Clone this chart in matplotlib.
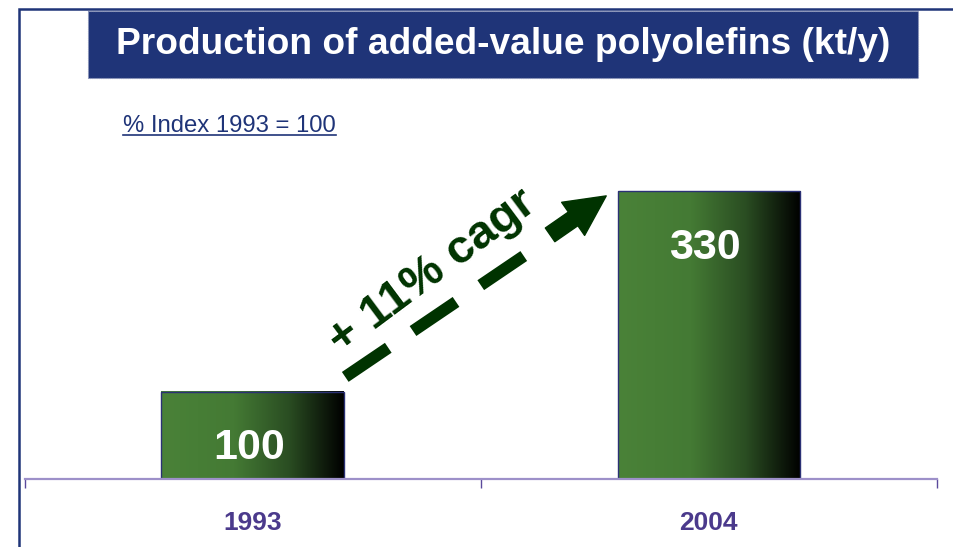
import numpy as np
import matplotlib
matplotlib.use('Agg')
import matplotlib.pyplot as plt
from matplotlib.colors import LinearSegmentedColormap
from matplotlib.patches import Rectangle
from matplotlib.lines import Line2D

# データ
years = ['1993', '2004']
values = [100, 330]
title = 'Production of added-value polyolefins (kt/y)'
subtitle = '% Index 1993 = 100'
cagr_text = '+ 11% cagr'

navy = '#1f3478'
dkgreen = '#003300'
plt.rcParams['font.family'] = ['Liberation Sans', 'DejaVu Sans']

fig = plt.figure(figsize=(9.54, 5.47), dpi=100)

# 背景（枠線・タイトル）用のピクセル座標の軸
bg = fig.add_axes([0, 0, 1, 1], zorder=0)
bg.set_xlim(0, 954)
bg.set_ylim(547, 0)
bg.axis('off')
bg.plot([19, 19, 954], [547, 8.5, 8.5], color=navy, lw=1.8, solid_joinstyle='miter')
bg.add_patch(Rectangle((88, 10.5), 830, 67.5, facecolor=navy,
                       edgecolor='#8a93b8', lw=0.8, ls=(0, (1, 1))))
bg.text(503, 45, title, color='white', fontsize=26.7, fontweight='bold',
        ha='center', va='center')
sub = bg.text(123, 132, subtitle, color=navy, fontsize=17.2, ha='left', va='baseline')

# メインの軸
ax = fig.add_axes([24.5 / 954, 68.3 / 547, 912.5 / 954, 388.7 / 547], zorder=1)
ax.patch.set_alpha(0)
ax.set_xlim(-0.5, 1.5)
ax.set_ylim(0, 446)

cmap = LinearSegmentedColormap.from_list('g', [(0, '#4a8238'), (0.4, '#447a34'),
                                              (0.7, '#2a4d22'), (1, '#000000')])
grad = np.linspace(0, 1, 256).reshape(1, -1)
w = 0.40
for i, v in enumerate(values):
    ax.imshow(grad, extent=[i - w / 2, i + w / 2, 0, v], cmap=cmap,
              aspect='auto', zorder=2, interpolation='bilinear')
    ax.add_patch(Rectangle((i - w / 2, 0), w, v, facecolor='none',
                           edgecolor='#2b3175', lw=1.0, zorder=3))
    ax.text(i - 0.008, v - 65, str(v), color='white', fontsize=31,
            fontweight='bold', ha='center', va='center', zorder=4)

for s in ['left', 'right', 'top']:
    ax.spines[s].set_visible(False)
ax.spines['bottom'].set_color('#9d90c9')
ax.spines['bottom'].set_linewidth(1.6)
ax.spines['bottom'].set_zorder(5)
ax.set_yticks([])
ax.set_xticks([0, 1])
ax.set_xticklabels(years, fontsize=19, fontweight='bold', color='#4b3a8c')
ax.tick_params(axis='x', which='major', length=0, pad=23)
ax.set_xticks([-0.5, 0.5, 1.5], minor=True)
ax.tick_params(axis='x', which='minor', length=6.5, width=1.0, color='#5b4a9c',
               direction='out')

# CAGR の矢印
ax.plot([0.203, 0.598], [116.8, 256.8], color=dkgreen, lw=8.6,
        ls=(0, (4.35, 2.5)), dash_capstyle='butt', zorder=4)
ax.annotate('', xy=(0.775, 324.5), xytext=(0.652, 279.8),
            arrowprops=dict(arrowstyle='simple,head_length=1.45,head_width=1.45,tail_width=0.6',
                            color=dkgreen, mutation_scale=20, shrinkA=0, shrinkB=0), zorder=4)
ax.text(0.394, 237, cagr_text, color=dkgreen, fontsize=34, fontweight='bold',
        rotation=36.7, rotation_mode='anchor', ha='center', va='center', zorder=4)

# 下線
fig.canvas.draw()
bb = sub.get_window_extent()
fig.add_artist(Line2D([bb.x0, bb.x1], [547 - 134.5, 547 - 134.5], color=navy,
                      lw=1.2, transform=None))

fig.savefig('out.png', dpi=100)
